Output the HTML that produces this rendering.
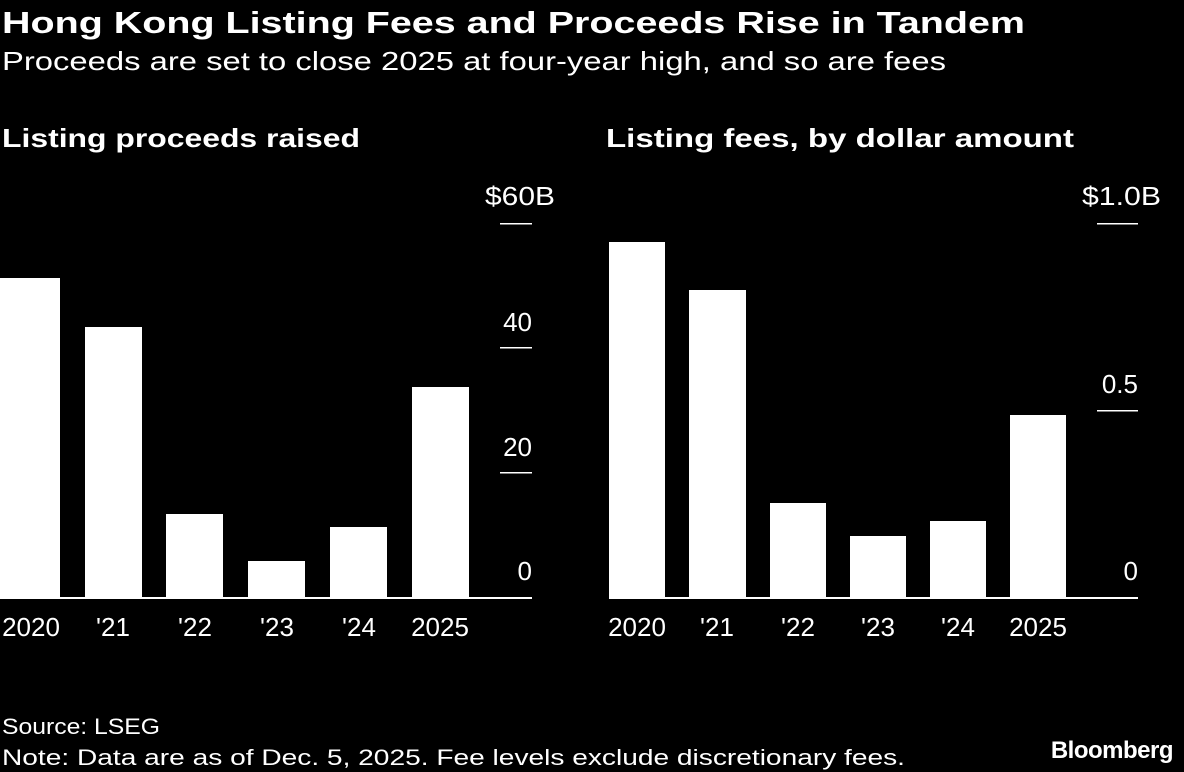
<!DOCTYPE html>
<html><head><meta charset="utf-8"><style>
body{margin:0;background:#000;width:1184px;height:772px;overflow:hidden;font-family:"Liberation Sans",sans-serif;color:#fff}
svg{position:absolute;left:0;top:0}
</style></head><body>
<svg width="1184" height="772" xmlns="http://www.w3.org/2000/svg" font-family="Liberation Sans, sans-serif" fill="#fff">
<text x="2" y="33" font-size="31" font-weight="bold" textLength="1023" lengthAdjust="spacingAndGlyphs">Hong Kong Listing Fees and Proceeds Rise in Tandem</text>
<text x="2" y="70" font-size="26" textLength="944" lengthAdjust="spacingAndGlyphs">Proceeds are set to close 2025 at four-year high, and so are fees</text>
<text x="2" y="147" font-size="26" font-weight="bold" textLength="358" lengthAdjust="spacingAndGlyphs">Listing proceeds raised</text>
<text x="606" y="147" font-size="26" font-weight="bold" textLength="468" lengthAdjust="spacingAndGlyphs">Listing fees, by dollar amount</text>
<!-- left -->
<g>
<rect x="0" y="278" width="60" height="320"/>
<rect x="85" y="327" width="57" height="271"/>
<rect x="166" y="514" width="57" height="84"/>
<rect x="248" y="561" width="57" height="37"/>
<rect x="330" y="527" width="57" height="71"/>
<rect x="412" y="387" width="57" height="211"/>
<rect x="0" y="597" width="532" height="2"/>
<rect x="500" y="223" width="32" height="1.5"/>
<rect x="500" y="347" width="32" height="1.5"/>
<rect x="500" y="472" width="32" height="1.5"/>
<g font-size="26">
<text x="485" y="205" textLength="70" lengthAdjust="spacingAndGlyphs">$60B</text>
<text x="532" y="331" text-anchor="end">40</text>
<text x="532" y="456" text-anchor="end">20</text>
<text x="532" y="580" text-anchor="end">0</text>
</g>
<g font-size="26" text-anchor="middle">
<text x="31" y="636">2020</text>
<text x="113" y="636">'21</text>
<text x="195" y="636">'22</text>
<text x="277" y="636">'23</text>
<text x="359" y="636">'24</text>
<text x="440" y="636">2025</text>
</g>
</g>
<!-- right -->
<g>
<rect x="609" y="242" width="56" height="356"/>
<rect x="689" y="290" width="57" height="308"/>
<rect x="770" y="503" width="56" height="95"/>
<rect x="850" y="536" width="56" height="62"/>
<rect x="930" y="521" width="56" height="77"/>
<rect x="1010" y="415" width="56" height="183"/>
<rect x="609" y="597" width="529" height="2"/>
<rect x="1097" y="223" width="41" height="1.5"/>
<rect x="1097" y="410" width="41" height="1.5"/>
<g font-size="26">
<text x="1082" y="205" textLength="79" lengthAdjust="spacingAndGlyphs">$1.0B</text>
<text x="1138" y="393" text-anchor="end">0.5</text>
<text x="1138" y="580" text-anchor="end">0</text>
</g>
<g font-size="26" text-anchor="middle">
<text x="637" y="636">2020</text>
<text x="717" y="636">'21</text>
<text x="798" y="636">'22</text>
<text x="878" y="636">'23</text>
<text x="958" y="636">'24</text>
<text x="1038" y="636">2025</text>
</g>
</g>
<text x="2" y="734" font-size="22" textLength="158" lengthAdjust="spacingAndGlyphs">Source: LSEG</text>
<text x="2" y="765" font-size="22" textLength="903" lengthAdjust="spacingAndGlyphs">Note: Data are as of Dec. 5, 2025. Fee levels exclude discretionary fees.</text>
<text x="1173" y="758" font-size="24" font-weight="bold" text-anchor="end" letter-spacing="-0.5">Bloomberg</text>
</svg>
</body></html>
